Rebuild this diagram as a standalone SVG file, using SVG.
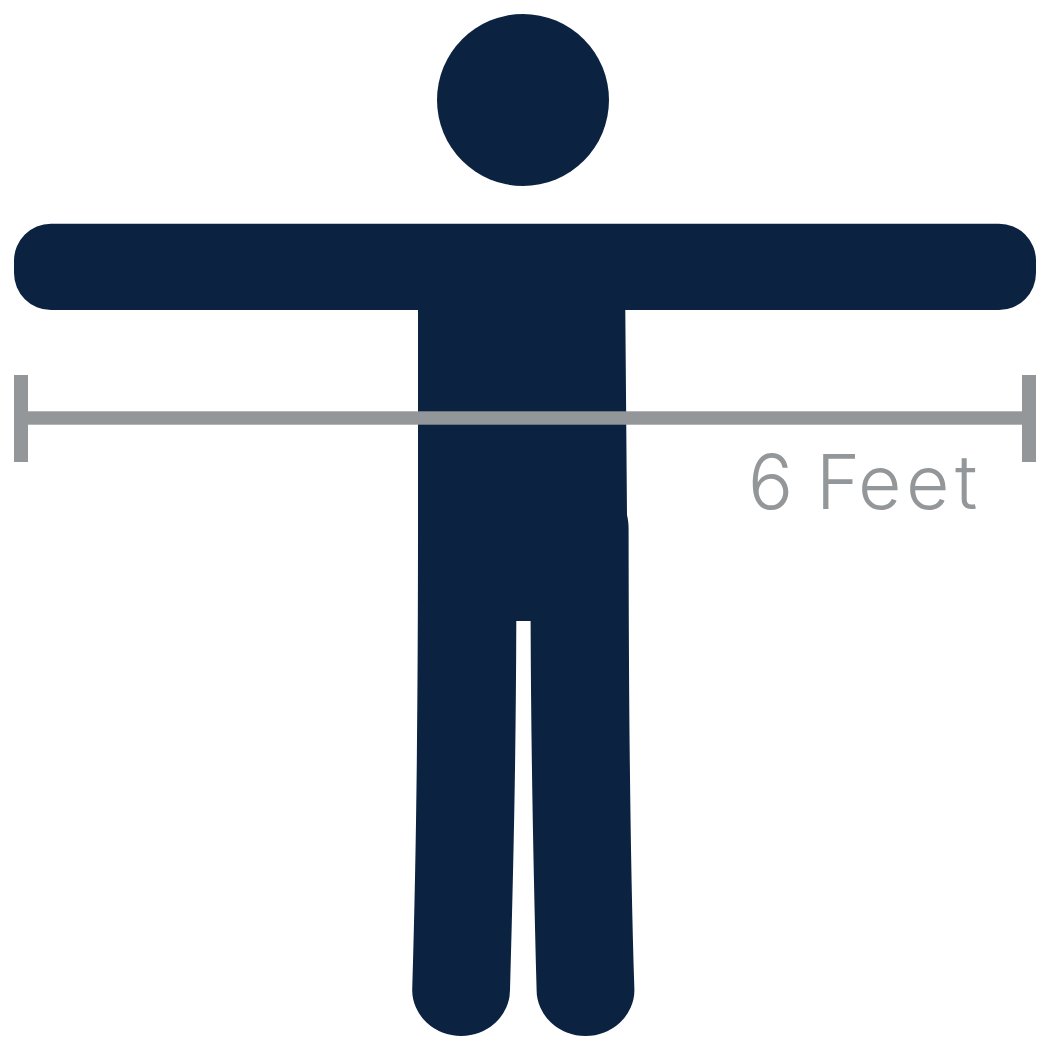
<svg xmlns="http://www.w3.org/2000/svg" width="1037" height="1038" viewBox="0 0 1037 1038">
<style>
.figure{fill:#0b2341}
.measure{fill:#939799}
.label{font-family:"Inter","Liberation Sans",sans-serif;font-weight:350;font-size:75px;fill:#939799}
</style>
<rect width="1037" height="1038" fill="#ffffff"/>
<g id="person">
<circle class="figure" cx="523" cy="100" r="86"/>
<path class="figure" d="M51 223.7H999A37 37 0 0 1 1036 260.7V273A37 37 0 0 1 999 310H625.3L627 515Q628.6 521 628.6 530C628.8 700 630 850 634.4 990A48.9 46 0 0 1 536.6 990C533 850 531 740 530.6 621H516.3C516 740 514 850 510 990A48.9 46 0 0 1 412.2 990C416.5 850 418 700 418 525V310H51A37 37 0 0 1 14 273V260.7A37 37 0 0 1 51 223.7Z"/>
</g>
<g id="connectors">
<rect class="measure" x="14" y="375" width="14" height="87"/>
<rect class="measure" x="1022" y="375" width="14" height="87"/>
<rect class="measure" x="28" y="411.3" width="994" height="13.4"/>
</g>
<g id="label">
<text class="label" x="748 795 816 858 906 955" y="509.3">6 Feet</text>
</g>
</svg>
